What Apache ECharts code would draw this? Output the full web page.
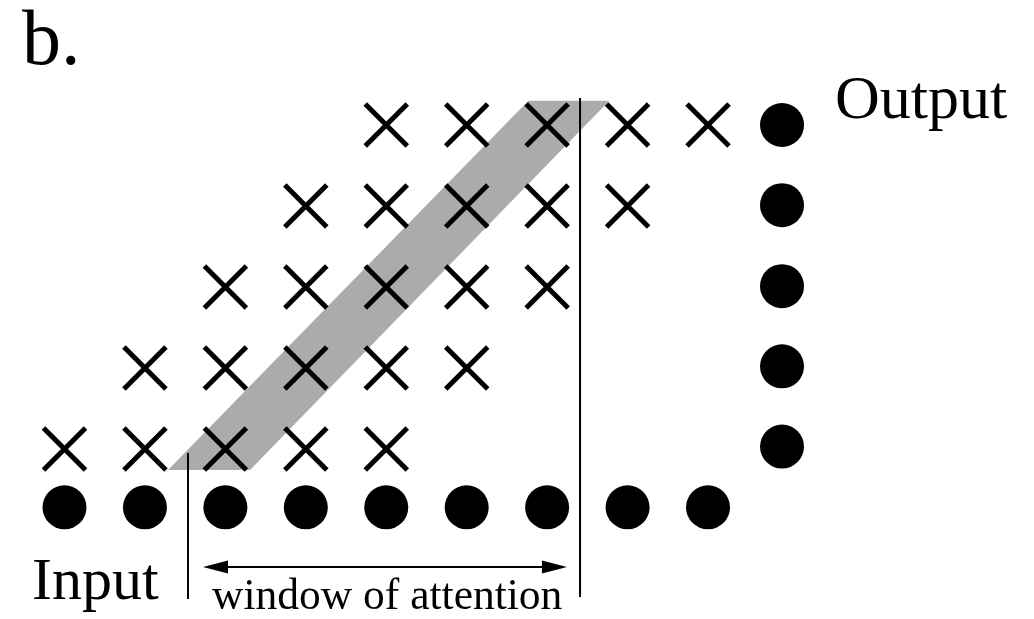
<!DOCTYPE html>
<html><head><meta charset="utf-8">
<script src="https://cdn.jsdelivr.net/npm/echarts@6/dist/echarts.min.js"></script>
<style>html,body{margin:0;padding:0;background:#fff}#c{width:1034px;height:619px}</style>
</head><body><div id="c"></div><script>
// ---- data (grid units: column index, row index) ----
const inputCols = [0, 1, 2, 3, 4, 5, 6, 7, 8];
const inputRow = 0.28;
const crossRows = [1, 2, 3, 4, 5];
const crossCols = [
  [0, 1, 2, 3, 4],
  [1, 2, 3, 4, 5],
  [2, 3, 4, 5, 6],
  [3, 4, 5, 6, 7],
  [4, 5, 6, 7, 8]
];
const outputCol = 8.92;
const outputRows = [1.03, 2.02, 3.01, 4.01, 5.0];
const bandCorners = [[1.287, 0.741], [2.306, 0.741], [6.773, 5.30], [5.766, 5.30]];
const windowEdges = [1.535, 6.409];
const windowTops = [0.951, 5.333];
const windowBottoms = [-0.852, -0.827];
const arrowRow = -0.457;
const arrowEnds = [1.877, 6.091];
const labels = { panel: 'b.', input: 'Input', output: 'Output', window: 'window of attention' };

const inputData = inputCols.map(c => [c, inputRow]);
const crossData = [];
crossRows.forEach((r, i) => crossCols[i].forEach(c => crossData.push([c, r])));
const outputData = outputRows.map(r => [outputCol, r]);

const serif = '"Liberation Serif", "DejaVu Serif", serif';
const chart = echarts.init(document.getElementById('c'), null, { renderer: 'canvas' });
chart.setOption({
  animation: false,
  backgroundColor: '#ffffff',
  grid: { left: 0, right: 0, top: 0, bottom: 0 },
  xAxis: { type: 'value', min: -0.8018, max: 12.0525, show: false },
  yAxis: { type: 'value', min: -1.099, max: 6.543, show: false },
  series: [
    {
      type: 'custom', z: 1,
      data: [0],
      renderItem: (params, api) => ({
        type: 'polygon',
        shape: { points: bandCorners.map(p => api.coord(p)) },
        style: { fill: '#ababab' }
      })
    },
    {
      type: 'line', z: 2, symbol: 'none', silent: true,
      data: [[windowEdges[0], windowTops[0]], [windowEdges[0], windowBottoms[0]]],
      lineStyle: { color: '#000', width: 2 }
    },
    {
      type: 'line', z: 2, symbol: 'none', silent: true,
      data: [[windowEdges[1], windowTops[1]], [windowEdges[1], windowBottoms[1]]],
      lineStyle: { color: '#000', width: 2 },
      markLine: {
        silent: true,
        symbol: ['triangle', 'triangle'],
        symbolSize: [13, 25],
        label: { show: false },
        lineStyle: { color: '#000', width: 2, type: 'solid' },
        data: [[{ coord: [arrowEnds[0], arrowRow] }, { coord: [arrowEnds[1], arrowRow] }]]
      }
    },
    {
      type: 'scatter', z: 3,
      data: crossData,
      symbol: 'path://M0,0L44,44M44,0L0,44',
      symbolSize: 42,
      itemStyle: { color: 'rgba(0,0,0,0)', borderColor: '#000', borderWidth: 5, opacity: 1 }
    },
    {
      type: 'scatter', z: 3,
      data: inputData,
      symbol: 'circle', symbolSize: 44,
      itemStyle: { color: '#000', opacity: 1 }
    },
    {
      type: 'scatter', z: 3,
      data: outputData,
      symbol: 'circle', symbolSize: 44,
      itemStyle: { color: '#000', opacity: 1 }
    }
  ],
  graphic: [
    { type: 'text', x: 22, y: 5, style: { text: labels.panel, font: '78px ' + serif, fill: '#000' } },
    { type: 'text', x: 835, y: 71, style: { text: labels.output, font: '62px ' + serif, fill: '#000' } },
    { type: 'text', x: 32, y: 553, style: { text: labels.input, font: '60px ' + serif, fill: '#000' } },
    { type: 'text', x: 212, y: 576, style: { text: labels.window, font: '43.5px ' + serif, fill: '#000' } }
  ]
});
</script></body></html>
